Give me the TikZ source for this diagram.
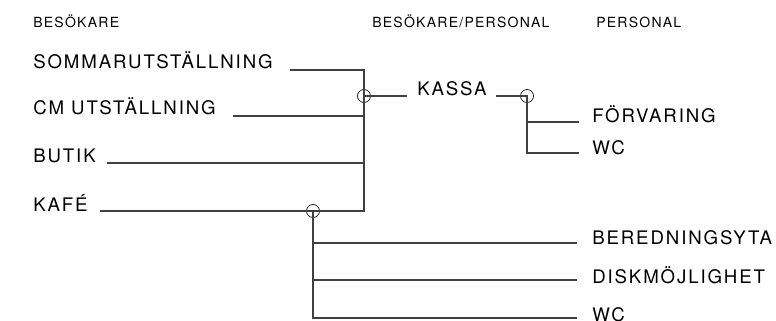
\documentclass[tikz,border=0pt]{standalone}
\usepackage{fontspec}
\setmainfont{TeX Gyre Heros}
\newfontfamily\bigfam[LetterSpace=10]{TeX Gyre Heros}
\newfontfamily\smallfam[LetterSpace=9]{TeX Gyre Heros}
\begin{document}
\begin{tikzpicture}[x=0.75pt,y=-0.75pt,
  lab/.style={anchor=base west,inner sep=0pt,font=\bigfam\fontsize{14pt}{16pt}\selectfont},
  head/.style={anchor=base west,inner sep=0pt,font=\smallfam\fontsize{10.5pt}{12pt}\selectfont},
  conn/.style={draw=black!75,line width=0.8pt},
  joint/.style={circle,draw=black!85,line width=0.6pt,minimum size=13*0.75pt,inner sep=0pt,fill=none}]
\useasboundingbox (0,0) rectangle (776,321);
% headers
\node[head] (h1) at (33,28) {BESÖKARE};
\node[head] (h2) at (372,28) {BESÖKARE/PERSONAL};
\node[head] (h3) at (596,28) {PERSONAL};
% left labels
\node[lab] (som) at (33,69) {SOMMARUTSTÄLLNING};
\node[lab] (cm) at (33,115) {CM UTSTÄLLNING};
\node[lab] (but) at (33,163) {BUTIK};
\node[lab] (kaf) at (33,211) {KAFÉ};
\node[lab] (kas) at (417,96) {KASSA};
% right labels
\node[lab] (forv) at (592,123) {FÖRVARING};
\node[lab] (wc1) at (592,155) {WC};
\node[lab] (ber) at (592,244) {BEREDNINGSYTA};
\node[lab] (disk) at (592,283) {DISKMÖJLIGHET};
\node[lab] (wc2) at (592,321) {WC};
% coordinates
\coordinate (somE) at (290,70);
\coordinate (cmE) at (233,116);
\coordinate (butE) at (107,163);
\coordinate (kafE) at (100,211);
\coordinate (vTop) at (364,70);
\coordinate (vCm) at (364,116);
\coordinate (vBut) at (364,163);
\coordinate (vBot) at (364,211);
\coordinate (kasW) at (407,96);
\coordinate (kasE) at (496,96);
\coordinate (k1) at (527,122);
\coordinate (k2) at (527,153);
\coordinate (forvW) at (579,122);
\coordinate (wc1W) at (579,153);
\coordinate (f1) at (313,243);
\coordinate (f2) at (313,280);
\coordinate (f3) at (313,318);
\coordinate (berW) at (577,243);
\coordinate (diskW) at (577,280);
\coordinate (wc2W) at (577,318);
% joints
\node[joint] (j1) at (364,96) {};
\node[joint] (j2) at (527,96) {};
\node[joint] (j3) at (313,211) {};
% connectors
\draw[conn] (somE) -- (vTop) -- (vBot) -- (kafE);
\draw[conn] (cmE) -- (vCm);
\draw[conn] (butE) -- (vBut);
\draw[conn] (j1.center) -- (kasW);
\draw[conn] (kasE) -- (j2.center) -- (k2) -- (wc1W);
\draw[conn] (k1) -- (forvW);
\draw[conn] (j3.center) -- (f3) -- (wc2W);
\draw[conn] (f1) -- (berW);
\draw[conn] (f2) -- (diskW);
\end{tikzpicture}
\end{document}
